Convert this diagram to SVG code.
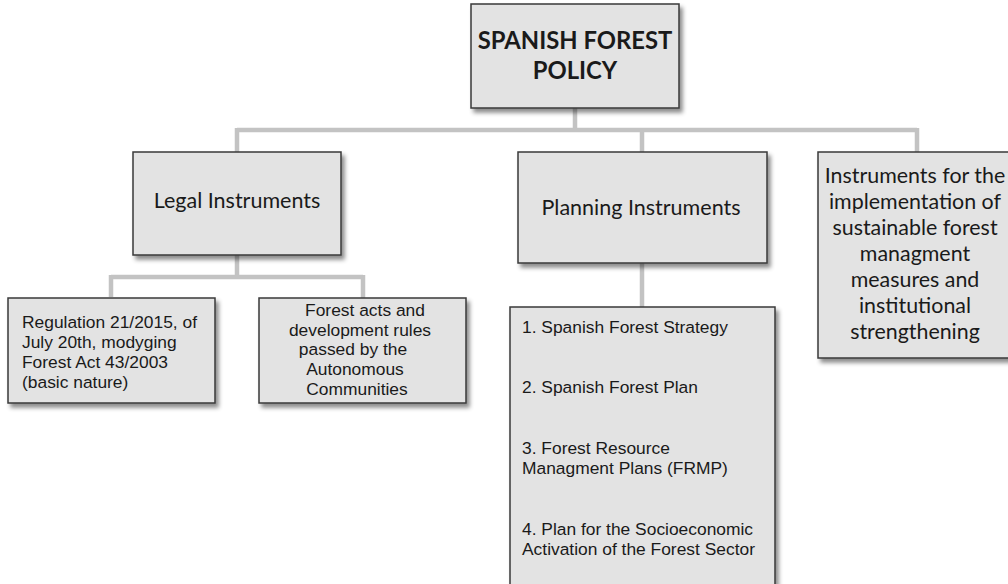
<svg xmlns="http://www.w3.org/2000/svg" width="1008" height="584" viewBox="0 0 1008 584">
<style>
.box{fill:#e3e3e3;stroke:#3a3a3a;stroke-width:1.5;filter:url(#sh)}
.conn{stroke:#c3c3c3;stroke-width:4.5;fill:none}
.cal{font-family:Lato,"Open Sans",sans-serif;fill:#1a1a1a}
.ar{font-family:"Liberation Sans",Arial,sans-serif;font-size:17.4px;fill:#1a1a1a}
</style>
<defs>
<filter id="sh" x="-10%" y="-10%" width="130%" height="130%">
<feDropShadow dx="3" dy="4" stdDeviation="2" flood-color="#000" flood-opacity="0.45"/>
</filter>
</defs>
<rect width="1008" height="584" fill="#fff"/>
<g id="connectors">
<path class="conn" d="M575 108V130M237 130H917M237 128V152M642 128V152M917 128V152"/>
<path class="conn" d="M237 255V277M111 277H363M111 275V297M363 275V298"/>
<path class="conn" d="M642 263V307"/>
</g>
<g id="policy">
<rect class="box" x="471" y="4" width="208" height="104"/>
<text class="cal" x="575" y="49" font-size="23.8" font-weight="bold" text-anchor="middle">SPANISH FOREST</text>
<text class="cal" x="575" y="79" font-size="23.8" font-weight="bold" text-anchor="middle">POLICY</text>
</g>
<g id="legal">
<rect class="box" x="133" y="152" width="208" height="103"/>
<text class="cal" x="237" y="208" font-size="21.5" text-anchor="middle">Legal Instruments</text>
</g>
<g id="planning">
<rect class="box" x="518" y="152" width="249" height="111"/>
<text class="cal" x="641" y="215" font-size="21.5" text-anchor="middle">Planning Instruments</text>
</g>
<g id="implementation">
<rect class="box" x="818" y="152" width="200" height="206"/>
<g class="cal" font-size="21.4" text-anchor="middle">
<text x="915" y="183">Instruments for the</text>
<text x="915" y="209">implementation of</text>
<text x="915" y="235">sustainable forest</text>
<text x="915" y="261">managment</text>
<text x="915" y="287">measures and</text>
<text x="915" y="313">institutional</text>
<text x="915" y="339">strengthening</text>
</g>
</g>
<g id="regulation">
<rect class="box" x="8" y="298" width="207" height="105"/>
<g class="ar">
<text x="22" y="328">Regulation 21/2015, of</text>
<text x="22" y="348">July 20th, modyging</text>
<text x="22" y="368">Forest Act 43/2003</text>
<text x="22" y="388">(basic nature)</text>
</g>
</g>
<g id="forestacts">
<rect class="box" x="259" y="298" width="207" height="105"/>
<g class="ar" text-anchor="middle">
<text x="365" y="316">Forest acts and</text>
<text x="360" y="336">development rules</text>
<text x="353" y="355">passed by the</text>
<text x="355" y="375">Autonomous</text>
<text x="357" y="395">Communities</text>
</g>
</g>
<g id="planlist">
<rect class="box" x="510" y="307" width="265" height="280"/>
<g class="ar">
<text x="522" y="333">1. Spanish Forest Strategy</text>
<text x="522" y="393">2. Spanish Forest Plan</text>
<text x="522" y="454">3. Forest Resource</text>
<text x="522" y="474">Managment Plans (FRMP)</text>
<text x="522" y="535">4. Plan for the Socioeconomic</text>
<text x="522" y="555">Activation of the Forest Sector</text>
</g>
</g>
</svg>
